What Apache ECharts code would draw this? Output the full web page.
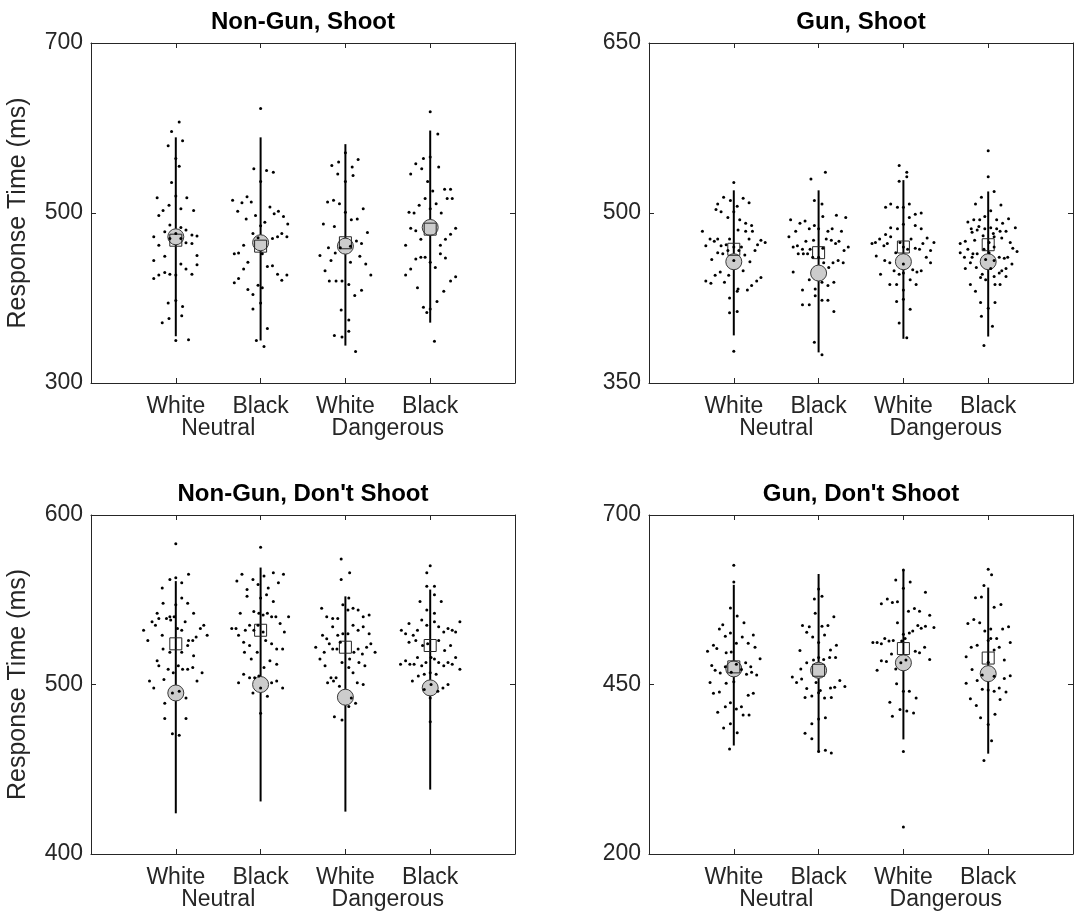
<!DOCTYPE html>
<html><head><meta charset="utf-8">
<script src="https://cdn.jsdelivr.net/npm/echarts@6/dist/echarts.min.js"></script>
<style>html,body{margin:0;padding:0;background:#fff}#c{width:1076px;height:915px}</style>
</head><body><div id="c"></div>
<script>
// ---------- data ----------
const panelTitles = ['Non-Gun, Shoot', 'Gun, Shoot', "Non-Gun, Don't Shoot", "Gun, Don't Shoot"];
const categories = ['White', 'Black', 'White', 'Black'];
const groupLabels = ['Neutral', 'Dangerous'];
const yAxisName = 'Response Time (ms)';
const yMin = [300, 350, 400, 200];
const yMax = [700, 650, 600, 700];
const yTicks = [[300, 500, 700], [350, 500, 650], [400, 500, 600], [200, 450, 700]];

// vertical range lines (low / high) per panel, per group
const rangeLow  = [[355, 350, 344, 371], [392, 377, 389, 391], [424, 431, 425, 438], [360, 351, 369, 348]];
const rangeHigh = [[589, 589, 581, 597], [520, 520, 529, 519], [561, 569, 552, 556], [597, 613, 619, 593]];
// grey circle and open square markers
const circleVals = [[472, 465, 461, 483], [457, 447, 457, 457], [495, 500, 492.5, 498], [473, 471, 482, 466]];
const squareVals = [[468, 461, 465, 481], [468, 465, 470, 472], [524, 532, 522, 523], [476, 471, 503, 489]];

// individual points: [jitter offset, response time]
const dotsNonGunShoot = [
 [[0.04,607],[-0.05,596],[0.08,585],[-0.09,579],[0,564],[0.04,555],[-0.05,536],[0,520],[-0.22,518],[0.13,518],[-0.08,509],[0.06,505],[0.21,503],[-0.15,503],[-0.2,497],[-0.07,486],[0.06,483],[0.12,480],[-0.13,478],[0,476],[0.19,474],[-0.26,472],[0.25,473],[-0.07,470],[0.06,470],[0.12,465],[0.19,464],[-0.2,462],[0.25,450],[-0.13,449],[-0.26,444],[0.06,440],[0.25,439],[0.12,434],[-0.13,430],[-0.2,427],[-0.07,428],[0,427],[0.19,428],[-0.26,423],[0,397],[-0.09,394],[0.08,390],[0.07,379],[-0.08,376],[-0.16,371],[0,350],[0.15,351]],
 [[0,623],[-0.08,552],[0.07,550],[0.15,548],[0,537],[-0.33,515],[-0.16,519],[-0.22,512],[-0.11,513],[-0.27,502],[0.11,507],[0.21,502],[0.16,499],[-0.06,497],[0.27,496],[-0.17,493],[0.05,489],[0.32,487],[0,485],[-0.09,476],[-0.03,471],[0.25,476],[0.14,470],[0.2,472],[0.31,472],[-0.2,462],[-0.31,452],[-0.26,453],[0.02,452],[-0.15,442],[-0.2,434],[0.08,437],[0.14,438],[0.2,428],[0.31,427],[0.25,421],[-0.26,423],[-0.31,418],[-0.03,415],[0.02,412],[-0.15,410],[-0.09,404],[0,394],[-0.09,387],[0.08,364],[-0.05,350],[0.04,343]],
 [[0,571],[-0.16,556],[-0.08,560],[0.15,563],[0.08,554],[-0.09,546],[0.09,544],[0,537],[-0.21,513],[-0.14,515],[-0.07,511],[0.21,505],[0,501],[-0.26,487],[-0.13,484],[0.07,492],[0.14,493],[0.26,477],[-0.2,459],[-0.3,450],[-0.12,453],[-0.06,459],[0.06,461],[0.13,467],[0.19,464],[-0.17,444],[0.17,449],[0.06,442],[0.24,440],[-0.24,432],[0.3,427],[-0.19,420],[-0.11,420],[-0.04,420],[0.04,416],[0.19,409],[0.11,403],[-0.05,386],[0.04,374],[0.04,361],[-0.13,356],[-0.04,354],[0.12,337]],
 [[0,619],[0.09,593],[0,566],[-0.08,564],[-0.17,558],[-0.1,552],[0.1,554],[-0.23,546],[-0.03,537],[0.03,526],[0.17,528],[0.24,528],[-0.06,517],[0.2,517],[0.26,517],[-0.13,509],[0.07,511],[-0.25,501],[-0.19,500],[0,505],[0.13,500],[-0.23,482],[-0.17,479],[0.3,482],[0.24,475],[-0.11,469],[0.18,469],[-0.29,462],[0.12,462],[-0.17,446],[-0.11,448],[-0.06,448],[0,442],[0.12,452],[0.18,447],[0.06,436],[-0.23,434],[-0.29,427],[0.3,425],[0.24,420],[-0.15,412],[0.16,408],[0.08,396],[-0.08,389],[-0.04,383],[0,387],[0.05,349]]
];
const dotsGunShoot = [
 [[0,527],[-0.12,514],[-0.04,511],[0.11,513],[0.18,509],[-0.19,508],[-0.21,503],[-0.15,501],[0,501],[0.04,506],[-0.07,496],[0.07,494],[0.14,491],[0.21,489],[-0.37,484],[0.05,485],[0.14,484],[0.22,484],[-0.28,477],[-0.23,475],[-0.19,477],[-0.05,477],[0.18,477],[0.32,476],[0.37,474],[-0.33,471],[-0.15,471],[-0.09,472],[0,470],[0.09,470],[0.28,472],[-0.07,467],[0.06,467],[-0.19,465],[-0.13,464],[0.13,463],[0.25,467],[-0.26,459],[0,458],[0.19,457],[0.11,449],[-0.16,448],[-0.22,445],[-0.06,445],[-0.33,440],[-0.27,438],[-0.11,439],[0.21,436],[0.27,440],[0.32,443],[0.05,433],[0.04,431],[0.16,432],[-0.05,425],[-0.05,412],[0.04,413],[0,378]],
 [[-0.09,530],[0.08,536],[-0.05,511],[0.04,508],[0.05,497],[-0.33,494],[-0.22,491],[-0.16,493],[-0.11,486],[-0.05,489],[0,486],[0.11,484],[0.16,486],[0.21,498],[0.32,496],[-0.27,484],[0.27,484],[-0.35,479],[-0.15,475],[-0.06,476],[0.09,477],[0.15,476],[0.2,473],[0.24,475],[0.35,470],[-0.3,470],[-0.25,471],[-0.19,468],[-0.24,464],[-0.18,464],[-0.1,468],[-0.13,464],[0.05,469],[0.3,467],[-0.07,461],[0,461],[0.06,456],[0.17,456],[0.23,458],[0.29,456],[0.12,452],[-0.3,448],[-0.11,441],[0.04,439],[0.18,439],[0.11,436],[-0.04,433],[-0.19,432],[-0.04,427],[0.04,423],[0.11,423],[-0.19,419],[-0.11,419],[0.18,413],[-0.05,386],[0.04,375]],
 [[-0.05,542],[0.04,536],[0.04,532],[-0.05,528],[-0.21,505],[-0.15,508],[-0.07,505],[0,505],[0.07,508],[0.07,496],[0.14,499],[0.21,500],[0.14,489],[0.21,486],[-0.15,487],[-0.07,486],[0,490],[-0.21,481],[-0.28,477],[-0.33,474],[-0.37,473],[-0.23,471],[-0.19,473],[-0.15,479],[-0.04,474],[0.09,477],[0.28,478],[0.36,474],[0.23,473],[0.14,469],[0.19,468],[0.32,467],[0.05,468],[0,470],[-0.09,465],[-0.32,462],[-0.22,458],[-0.16,456],[0,455],[0.27,461],[0.32,456],[0.11,450],[0.16,448],[0.21,449],[-0.11,449],[-0.05,446],[0,447],[-0.27,446],[0.08,441],[-0.16,437],[-0.08,437],[0.15,437],[0,432],[0,424],[-0.08,422],[0.08,415],[-0.05,403],[0.04,390]],
 [[0,555],[0,532],[0.07,519],[-0.08,514],[-0.15,508],[0.15,507],[0.03,502],[-0.04,497],[-0.24,492],[-0.17,494],[-0.1,494],[0.1,494],[0.24,495],[0.17,491],[0.32,487],[-0.2,486],[-0.11,488],[-0.04,486],[0.03,487],[0.1,486],[0.21,484],[0.14,484],[0.06,482],[-0.19,483],[-0.13,485],[-0.06,480],[-0.27,475],[-0.16,476],[0.07,479],[0.16,478],[-0.33,473],[-0.24,468],[0.01,474],[0.07,470],[0.26,474],[0.29,469],[0.34,466],[-0.05,468],[-0.33,465],[-0.18,464],[-0.13,464],[0.01,465],[-0.28,461],[-0.19,461],[-0.03,459],[0.07,458],[0.13,461],[0.19,460],[0.23,461],[-0.21,456],[-0.14,452],[0.03,451],[-0.27,451],[0.28,455],[0.16,449],[0.21,451],[-0.07,446],[0.07,444],[0.13,447],[-0.09,443],[-0.03,441],[0.21,444],[-0.21,437],[-0.15,431],[0.08,437],[0.14,437],[-0.09,421],[0.08,421],[0,416],[-0.08,409],[0.05,400],[-0.05,383]]
];
const dotsNonGunDontShoot = [
 [[0,583],[-0.07,562],[0,563],[0.15,565],[0.07,560],[-0.16,557],[0.07,551],[0.14,548],[-0.15,548],[0,547],[0.21,542],[-0.22,542],[-0.28,537],[-0.24,535],[-0.2,539],[-0.11,539],[-0.07,540],[-0.06,538],[-0.02,540],[0.02,533],[0.07,532],[0.11,537],[-0.38,532],[0.29,533],[0.33,535],[0.37,529],[0.24,528],[0.2,526],[0.15,526],[0.14,523],[-0.33,526],[-0.16,529],[-0.15,521],[-0.07,519],[0.07,519],[0.21,517],[-0.22,514],[-0.2,511],[-0.09,509],[-0.03,507],[0.03,511],[0.08,509],[0.14,509],[0.2,510],[0.31,507],[-0.14,503],[-0.31,502],[-0.26,498],[0.25,502],[-0.04,495],[0.04,496],[0.12,492],[-0.13,489],[-0.13,480],[0.12,480],[-0.04,471],[0.04,470]],
 [[0,581],[-0.22,565],[-0.09,562],[0.04,564],[0.15,566],[0.27,565],[-0.28,561],[-0.03,559],[0.21,560],[-0.16,556],[0.09,557],[-0.16,552],[0.07,553],[0,551],[0.15,549],[-0.24,542],[-0.08,543],[-0.02,542],[0.03,541],[0.08,542],[0.13,540],[0.18,540],[0.33,540],[0.23,536],[-0.34,533],[-0.29,533],[-0.18,532],[-0.13,535],[-0.03,535],[-0.26,529],[0.28,531],[-0.08,532],[0.03,531],[-0.2,525],[-0.13,523],[0.06,526],[0.13,524],[0.19,521],[0.26,521],[-0.19,519],[-0.04,519],[-0.11,515],[0.04,510],[0.11,514],[0.19,512],[-0.2,506],[-0.13,504],[-0.07,504],[-0.02,505],[0.13,501],[0.19,502],[-0.26,501],[0.26,498],[0.08,493],[-0.09,495],[0,498],[0,483]],
 [[-0.05,574],[0.05,566],[-0.05,562],[0.04,551],[-0.03,547],[-0.28,545],[0.03,544],[0.09,545],[0.15,544],[-0.22,540],[-0.15,539],[-0.09,539],[0.21,540],[0.28,541],[0.09,535],[-0.15,534],[0.15,532],[0.21,534],[0.03,530],[-0.03,530],[-0.09,529],[0.28,530],[-0.27,529],[-0.22,527],[-0.06,525],[-0.19,524],[-0.15,521],[-0.1,521],[-0.35,522],[-0.25,519],[0.1,519],[0.15,521],[0.2,518],[0.25,522],[0.3,524],[0.35,519],[-0.3,515],[-0.04,513],[0.05,515],[0.16,513],[0.23,511],[-0.24,511],[0.04,510],[0.09,507],[-0.17,504],[-0.11,504],[-0.21,501],[-0.14,502],[-0.07,499],[0.14,501],[0.21,500],[0.07,492],[0.12,489],[0.04,487],[-0.13,481],[-0.04,479]],
 [[0,570],[-0.04,566],[-0.04,558],[0.05,558],[0.05,553],[-0.12,549],[0.13,549],[-0.04,544],[0.05,542],[-0.25,536],[-0.1,538],[-0.04,535],[0.05,537],[0.1,534],[0.16,531],[0.21,533],[0.26,532],[0.3,531],[0.35,537],[-0.34,532],[-0.29,530],[-0.2,529],[-0.15,532],[-0.09,523],[-0.25,525],[-0.17,526],[-0.03,524],[0.1,526],[0.24,523],[0.17,520],[-0.35,512],[-0.29,514],[-0.24,512],[-0.19,512],[-0.15,516],[-0.1,511],[-0.05,513],[0.01,516],[0.05,515],[0.1,513],[0.16,511],[0.21,513],[0.26,512],[0.3,516],[0.35,509],[-0.21,502],[-0.14,505],[-0.07,506],[0,507],[0.07,506],[0.15,498],[0.21,500],[-0.07,497],[0.01,500],[0.09,496],[0,492],[0,478]]
];
const dotsGunDontShoot = [
 [[0,626],[0,601],[-0.04,563],[0.04,551],[0.12,541],[-0.13,538],[-0.17,532],[-0.1,521],[-0.04,526],[0.03,511],[0.1,520],[0.17,511],[0.23,523],[0.25,505],[-0.24,508],[-0.2,503],[-0.31,499],[-0.09,497],[-0.03,498],[0.31,488],[-0.26,478],[-0.22,471],[-0.16,467],[-0.1,476],[0.03,480],[0.09,472],[0.14,482],[0.15,465],[0.2,476],[0.21,468],[0.27,464],[-0.03,468],[-0.28,453],[-0.09,452],[0,454],[-0.24,437],[-0.17,439],[0.17,434],[0.23,437],[-0.04,423],[-0.1,417],[0.03,414],[0.09,417],[-0.19,409],[0.11,405],[0.18,405],[-0.12,386],[-0.04,392],[0.04,379],[-0.05,355]],
 [[0,591],[-0.05,576],[0.04,580],[-0.04,555],[0.18,550],[-0.19,537],[-0.11,535],[0.04,536],[0.11,537],[-0.14,527],[-0.07,520],[0.07,523],[0,512],[0.21,508],[-0.22,500],[0.14,501],[-0.14,482],[-0.06,486],[0,490],[0.06,487],[0.13,490],[0.2,490],[-0.21,473],[-0.31,461],[-0.26,453],[-0.2,458],[-0.03,453],[-0.14,444],[-0.08,433],[-0.16,431],[0,438],[0.02,441],[0.07,430],[0.15,431],[0.14,445],[0.19,446],[0.25,456],[0.31,447],[0,399],[0.08,401],[-0.08,392],[-0.16,378],[-0.08,370],[0,351],[0.08,353],[0.15,349]],
 [[0,619],[-0.09,604],[0.08,601],[0,592],[0.26,586],[-0.19,576],[-0.26,569],[-0.13,571],[-0.07,572],[0.06,558],[0.13,562],[0.19,558],[0.31,552],[-0.07,541],[0.17,537],[0.21,533],[0.26,536],[0.36,534],[0.07,526],[0.11,529],[0,524],[0.02,518],[-0.22,518],[-0.17,514],[-0.12,515],[-0.36,512],[-0.31,512],[-0.26,510],[-0.02,514],[0.25,505],[0.14,499],[0.19,497],[-0.14,495],[-0.26,485],[-0.2,484],[0.31,487],[-0.31,471],[-0.09,473],[-0.03,482],[0.03,486],[-0.08,451],[0,440],[0.07,440],[0.15,430],[-0.16,424],[-0.04,413],[0.04,411],[0.12,408],[-0.13,403],[0,351],[0,240]],
 [[0,620],[0.04,612],[-0.05,596],[-0.15,578],[-0.08,579],[0.07,564],[0.15,568],[-0.24,540],[-0.17,546],[-0.1,541],[-0.04,529],[0.03,532],[0.1,518],[0.17,532],[0.24,535],[0,515],[0.03,518],[0.26,512],[-0.13,508],[-0.2,505],[0.13,505],[0.07,501],[-0.26,491],[0.19,486],[0,483],[-0.19,472],[-0.07,464],[0.07,462],[0.19,459],[0.26,463],[-0.26,452],[-0.13,456],[-0.07,443],[0,442],[0.07,440],[0.13,445],[0.21,439],[-0.21,429],[-0.14,419],[0.14,428],[-0.09,401],[0.08,406],[0,391],[0.04,367],[-0.05,338]]
];
const panelDots = [dotsNonGunShoot, dotsGunShoot, dotsNonGunDontShoot, dotsGunDontShoot];

// ---------- layout / style ----------
const FONT = '"Liberation Sans", Arial, Helvetica, sans-serif';
const AX = '#262626';
const grids = [
  {left: 91, top: 43, width: 424, height: 340},
  {left: 649, top: 43, width: 424, height: 340},
  {left: 91, top: 515, width: 424, height: 339},
  {left: 649, top: 515, width: 424, height: 339}
];

const xAxes = [], yAxes = [], series = [], graphics = [];
grids.forEach((g, i) => {
  const lineStyle = {color: AX, width: 1};
  const tickVals = categories.map((c, k) => k + 1);
  xAxes.push({
    gridIndex: i, type: 'value', min: 0, max: 5, position: 'bottom',
    axisLine: {show: true, onZero: false, lineStyle},
    axisTick: {show: true, inside: true, length: 5, customValues: tickVals, lineStyle},
    axisLabel: {customValues: tickVals, formatter: v => categories[Math.round(v) - 1],
      fontSize: 23, color: AX, fontFamily: FONT, margin: 12},
    splitLine: {show: false}
  });
  xAxes.push({
    gridIndex: i, type: 'value', min: 0, max: 5, position: 'top',
    axisLine: {show: true, onZero: false, lineStyle},
    axisTick: {show: true, inside: true, length: 5, customValues: tickVals, lineStyle},
    axisLabel: {show: false}, splitLine: {show: false}
  });
  xAxes.push({
    gridIndex: i, type: 'value', min: 0, max: 5, position: 'bottom',
    axisLine: {show: false}, axisTick: {show: false},
    axisLabel: {customValues: [1.5, 3.5], formatter: v => groupLabels[v < 2.5 ? 0 : 1],
      fontSize: 23, color: AX, fontFamily: FONT, margin: 34},
    splitLine: {show: false}
  });
  yAxes.push({
    gridIndex: i, type: 'value', min: yMin[i], max: yMax[i], position: 'left',
    axisLine: {show: true, onZero: false, lineStyle},
    axisTick: {show: true, inside: true, length: 5, customValues: yTicks[i], lineStyle},
    axisLabel: {customValues: yTicks[i], fontSize: 23, color: AX, fontFamily: FONT, margin: 8},
    splitLine: {show: false},
    name: i % 2 === 0 ? yAxisName : '', nameLocation: 'middle', nameGap: 60, nameRotate: 90,
    nameTextStyle: {fontSize: 25, color: AX, fontFamily: FONT}
  });
  yAxes.push({
    gridIndex: i, type: 'value', min: yMin[i], max: yMax[i], position: 'right',
    axisLine: {show: true, onZero: false, lineStyle},
    axisTick: {show: true, inside: true, length: 5, customValues: yTicks[i], lineStyle},
    axisLabel: {show: false}, splitLine: {show: false}
  });
  const xi = i * 3, yi = i * 2;
  series.push({
    type: 'custom', xAxisIndex: xi, yAxisIndex: yi, z: 1, silent: true,
    data: rangeLow[i].map((lo, k) => [k + 1, lo, rangeHigh[i][k]]),
    renderItem: (params, api) => {
      const a = api.coord([api.value(0), api.value(1)]);
      const b = api.coord([api.value(0), api.value(2)]);
      return {type: 'line', shape: {x1: a[0], y1: a[1], x2: b[0], y2: b[1]},
        style: {stroke: '#000', lineWidth: 2}};
    }
  });
  series.push({
    type: 'scatter', xAxisIndex: xi, yAxisIndex: yi, z: 2, silent: true,
    symbol: 'circle', symbolSize: 16,
    data: circleVals[i].map((v, k) => [k + 1, v]),
    itemStyle: {color: '#cccccc', borderColor: '#3a3a3a', borderWidth: 1, opacity: 1}
  });
  series.push({
    type: 'scatter', xAxisIndex: xi, yAxisIndex: yi, z: 3, silent: true,
    symbol: 'rect', symbolSize: 12,
    data: squareVals[i].map((v, k) => [k + 1, v]),
    itemStyle: {color: 'rgba(0,0,0,0)', borderColor: '#262626', borderWidth: 1, opacity: 1}
  });
  const pts = [];
  panelDots[i].forEach((grp, k) => grp.forEach(d => pts.push([k + 1 + d[0], d[1]])));
  series.push({
    type: 'scatter', xAxisIndex: xi, yAxisIndex: yi, z: 4, silent: true,
    symbol: 'circle', symbolSize: 3, data: pts,
    itemStyle: {color: '#000', opacity: 1}
  });
  graphics.push({
    type: 'text', x: g.left + g.width / 2, y: g.top - 21,
    style: {text: panelTitles[i], font: 'bold 24px ' + FONT, fill: '#000',
      textAlign: 'center', textVerticalAlign: 'middle'}
  });
});

const chart = echarts.init(document.getElementById('c'), null, {renderer: 'canvas'});
chart.setOption({
  animation: false,
  backgroundColor: '#fff',
  grid: grids.map(g => Object.assign({containLabel: false}, g)),
  xAxis: xAxes,
  yAxis: yAxes,
  series: series,
  graphic: graphics
});
</script></body></html>
